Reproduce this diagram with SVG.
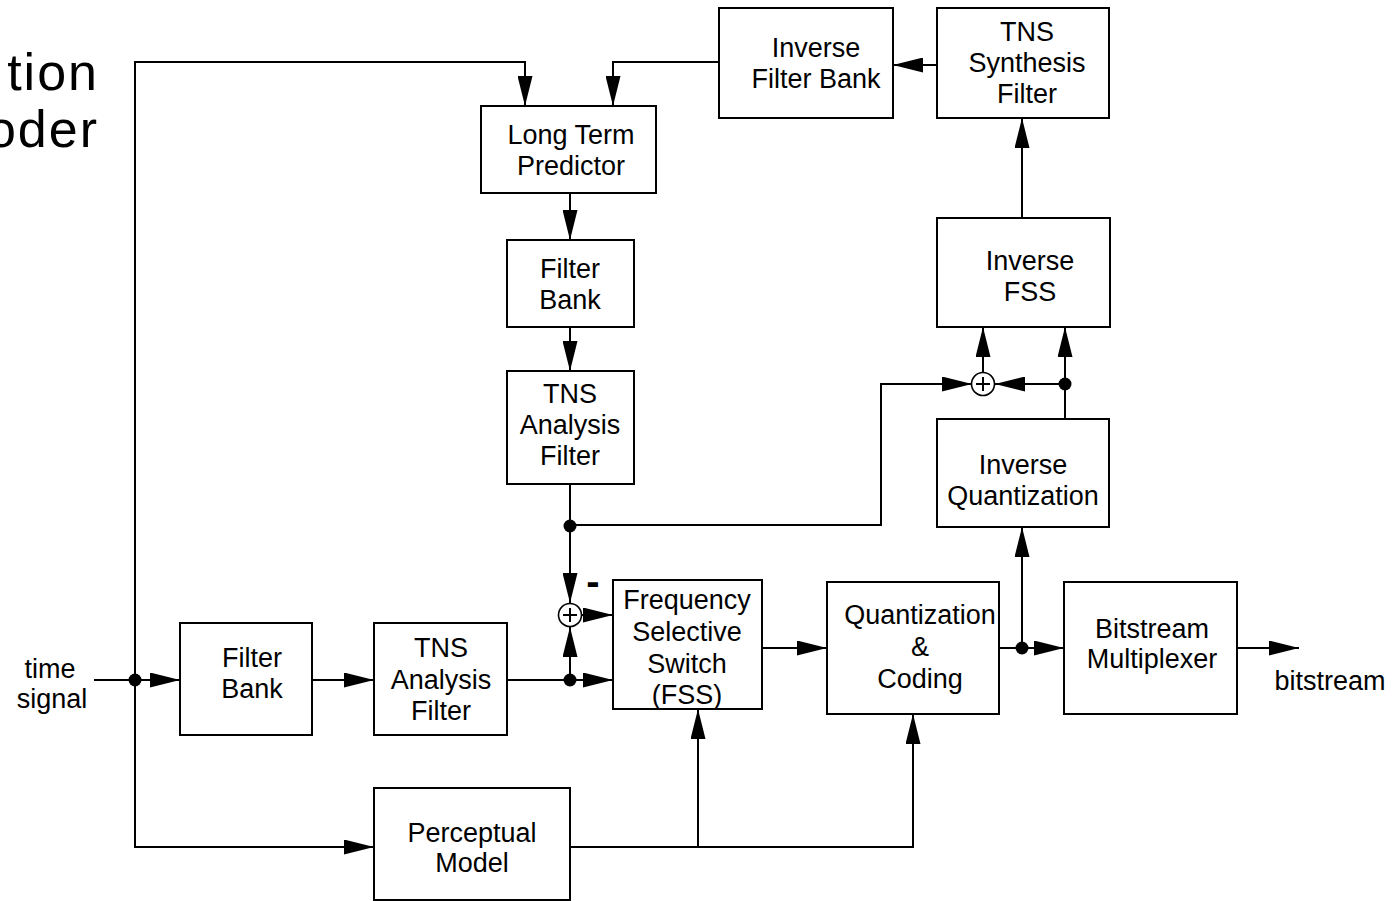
<svg xmlns="http://www.w3.org/2000/svg" width="1396" height="901" viewBox="0 0 1396 901">
<style>
.box{fill:#fff;stroke:#000;stroke-width:2}
.t{font-family:"Liberation Sans",Arial,sans-serif;font-size:27px;text-anchor:middle;fill:#000}
.title{font-family:"Liberation Sans",Arial,sans-serif;font-size:52px;text-anchor:end;fill:#000;letter-spacing:2px}
.ln{fill:none;stroke:#000;stroke-width:2}
.dot{fill:#000}
.sum{fill:#fff;stroke:#000;stroke-width:1.6}
</style>
<defs>
<marker id="ah" markerUnits="userSpaceOnUse" markerWidth="30" markerHeight="15" viewBox="0 0 30 15" refX="30" refY="7.5" orient="auto">
<path d="M0,0 L30,7.5 L0,15 z" fill="#000"/>
</marker>
</defs>
<rect width="1396" height="901" fill="#fff"/>
<g id="title">
<text class="title" x="99" y="90">tion</text>
<text class="title" x="99" y="147">oder</text>
</g>
<g id="connectors">
<path class="ln" d="M94,680 H180" marker-end="url(#ah)"/>
<path class="ln" d="M135,680 V62 H525 V106" marker-end="url(#ah)"/>
<path class="ln" d="M135,680 V847 H374" marker-end="url(#ah)"/>
<path class="ln" d="M312,680 H374" marker-end="url(#ah)"/>
<path class="ln" d="M507,680 H613" marker-end="url(#ah)"/>
<path class="ln" d="M570,680 V627" marker-end="url(#ah)"/>
<path class="ln" d="M570,193 V240" marker-end="url(#ah)"/>
<path class="ln" d="M570,327 V371" marker-end="url(#ah)"/>
<path class="ln" d="M570,484 V603" marker-end="url(#ah)"/>
<path class="ln" d="M570,525 H881 V384 H972" marker-end="url(#ah)"/>
<path class="ln" d="M582,615 H613" marker-end="url(#ah)"/>
<path class="ln" d="M762,648 H827" marker-end="url(#ah)"/>
<path class="ln" d="M999,648 H1064" marker-end="url(#ah)"/>
<path class="ln" d="M1022,648 V527" marker-end="url(#ah)"/>
<path class="ln" d="M1237,648 H1299" marker-end="url(#ah)"/>
<path class="ln" d="M1065,419 V327" marker-end="url(#ah)"/>
<path class="ln" d="M1065,384 H995" marker-end="url(#ah)"/>
<path class="ln" d="M983,373 V327" marker-end="url(#ah)"/>
<path class="ln" d="M1022,218 V118" marker-end="url(#ah)"/>
<path class="ln" d="M937,65 H893" marker-end="url(#ah)"/>
<path class="ln" d="M719,62 H613 V106" marker-end="url(#ah)"/>
<path class="ln" d="M570,847 H913 V714" marker-end="url(#ah)"/>
<path class="ln" d="M698,847 V709" marker-end="url(#ah)"/>
<circle class="dot" cx="135" cy="680" r="6.5"/>
<circle class="dot" cx="570" cy="526" r="6.5"/>
<circle class="dot" cx="570" cy="680" r="6.5"/>
<circle class="dot" cx="1022" cy="648" r="6.5"/>
<circle class="dot" cx="1065" cy="384" r="6.5"/>
</g>
<g id="sum1">
<circle class="sum" cx="570" cy="615" r="11.5"/>
<path class="ln" d="M563,615 H577 M570,608 V622" stroke-width="1.6"/>
</g>
<g id="sum2">
<circle class="sum" cx="983" cy="384" r="11.5"/>
<path class="ln" d="M976,384 H990 M983,377 V391" stroke-width="1.6"/>
</g>
<g id="minus">
<text x="593" y="595" font-family="Liberation Sans,Arial,sans-serif" font-size="40" font-weight="bold" text-anchor="middle">-</text>
</g>
<g id="time-signal">
<text class="t" x="50" y="678">time</text>
<text class="t" x="52" y="708">signal</text>
</g>
<g id="bitstream-out">
<text class="t" x="1330" y="690">bitstream</text>
</g>
<g id="filter-bank">
<rect class="box" x="180" y="623" width="132" height="112"/>
<text class="t" x="252" y="667">Filter</text>
<text class="t" x="252" y="698">Bank</text>
</g>
<g id="tns-analysis">
<rect class="box" x="374" y="623" width="133" height="112"/>
<text class="t" x="441" y="657">TNS</text>
<text class="t" x="441" y="689">Analysis</text>
<text class="t" x="441" y="720">Filter</text>
</g>
<g id="perceptual-model">
<rect class="box" x="374" y="788" width="196" height="112"/>
<text class="t" x="472" y="842">Perceptual</text>
<text class="t" x="472" y="872">Model</text>
</g>
<g id="fss">
<rect class="box" x="613" y="580" width="149" height="129"/>
<text class="t" x="687" y="609">Frequency</text>
<text class="t" x="687" y="641">Selective</text>
<text class="t" x="687" y="673">Switch</text>
<text class="t" x="687" y="704">(FSS)</text>
</g>
<g id="quantization">
<rect class="box" x="827" y="582" width="172" height="132"/>
<text class="t" x="920" y="624">Quantization</text>
<text class="t" x="920" y="656">&amp;</text>
<text class="t" x="920" y="688">Coding</text>
</g>
<g id="bitstream-mux">
<rect class="box" x="1064" y="582" width="173" height="132"/>
<text class="t" x="1152" y="638">Bitstream</text>
<text class="t" x="1152" y="668">Multiplexer</text>
</g>
<g id="inverse-quantization">
<rect class="box" x="937" y="419" width="172" height="108"/>
<text class="t" x="1023" y="474">Inverse</text>
<text class="t" x="1023" y="505">Quantization</text>
</g>
<g id="inverse-fss">
<rect class="box" x="937" y="218" width="173" height="109"/>
<text class="t" x="1030" y="270">Inverse</text>
<text class="t" x="1030" y="301">FSS</text>
</g>
<g id="tns-synthesis">
<rect class="box" x="937" y="8" width="172" height="110"/>
<text class="t" x="1027" y="41">TNS</text>
<text class="t" x="1027" y="72">Synthesis</text>
<text class="t" x="1027" y="103">Filter</text>
</g>
<g id="inverse-filter-bank">
<rect class="box" x="719" y="8" width="174" height="110"/>
<text class="t" x="816" y="57">Inverse</text>
<text class="t" x="816" y="88">Filter Bank</text>
</g>
<g id="long-term-predictor">
<rect class="box" x="481" y="106" width="175" height="87"/>
<text class="t" x="571" y="144">Long Term</text>
<text class="t" x="571" y="175">Predictor</text>
</g>
<g id="filter-bank-2">
<rect class="box" x="507" y="240" width="127" height="87"/>
<text class="t" x="570" y="278">Filter</text>
<text class="t" x="570" y="309">Bank</text>
</g>
<g id="tns-analysis-2">
<rect class="box" x="507" y="371" width="127" height="113"/>
<text class="t" x="570" y="403">TNS</text>
<text class="t" x="570" y="434">Analysis</text>
<text class="t" x="570" y="465">Filter</text>
</g>
</svg>
